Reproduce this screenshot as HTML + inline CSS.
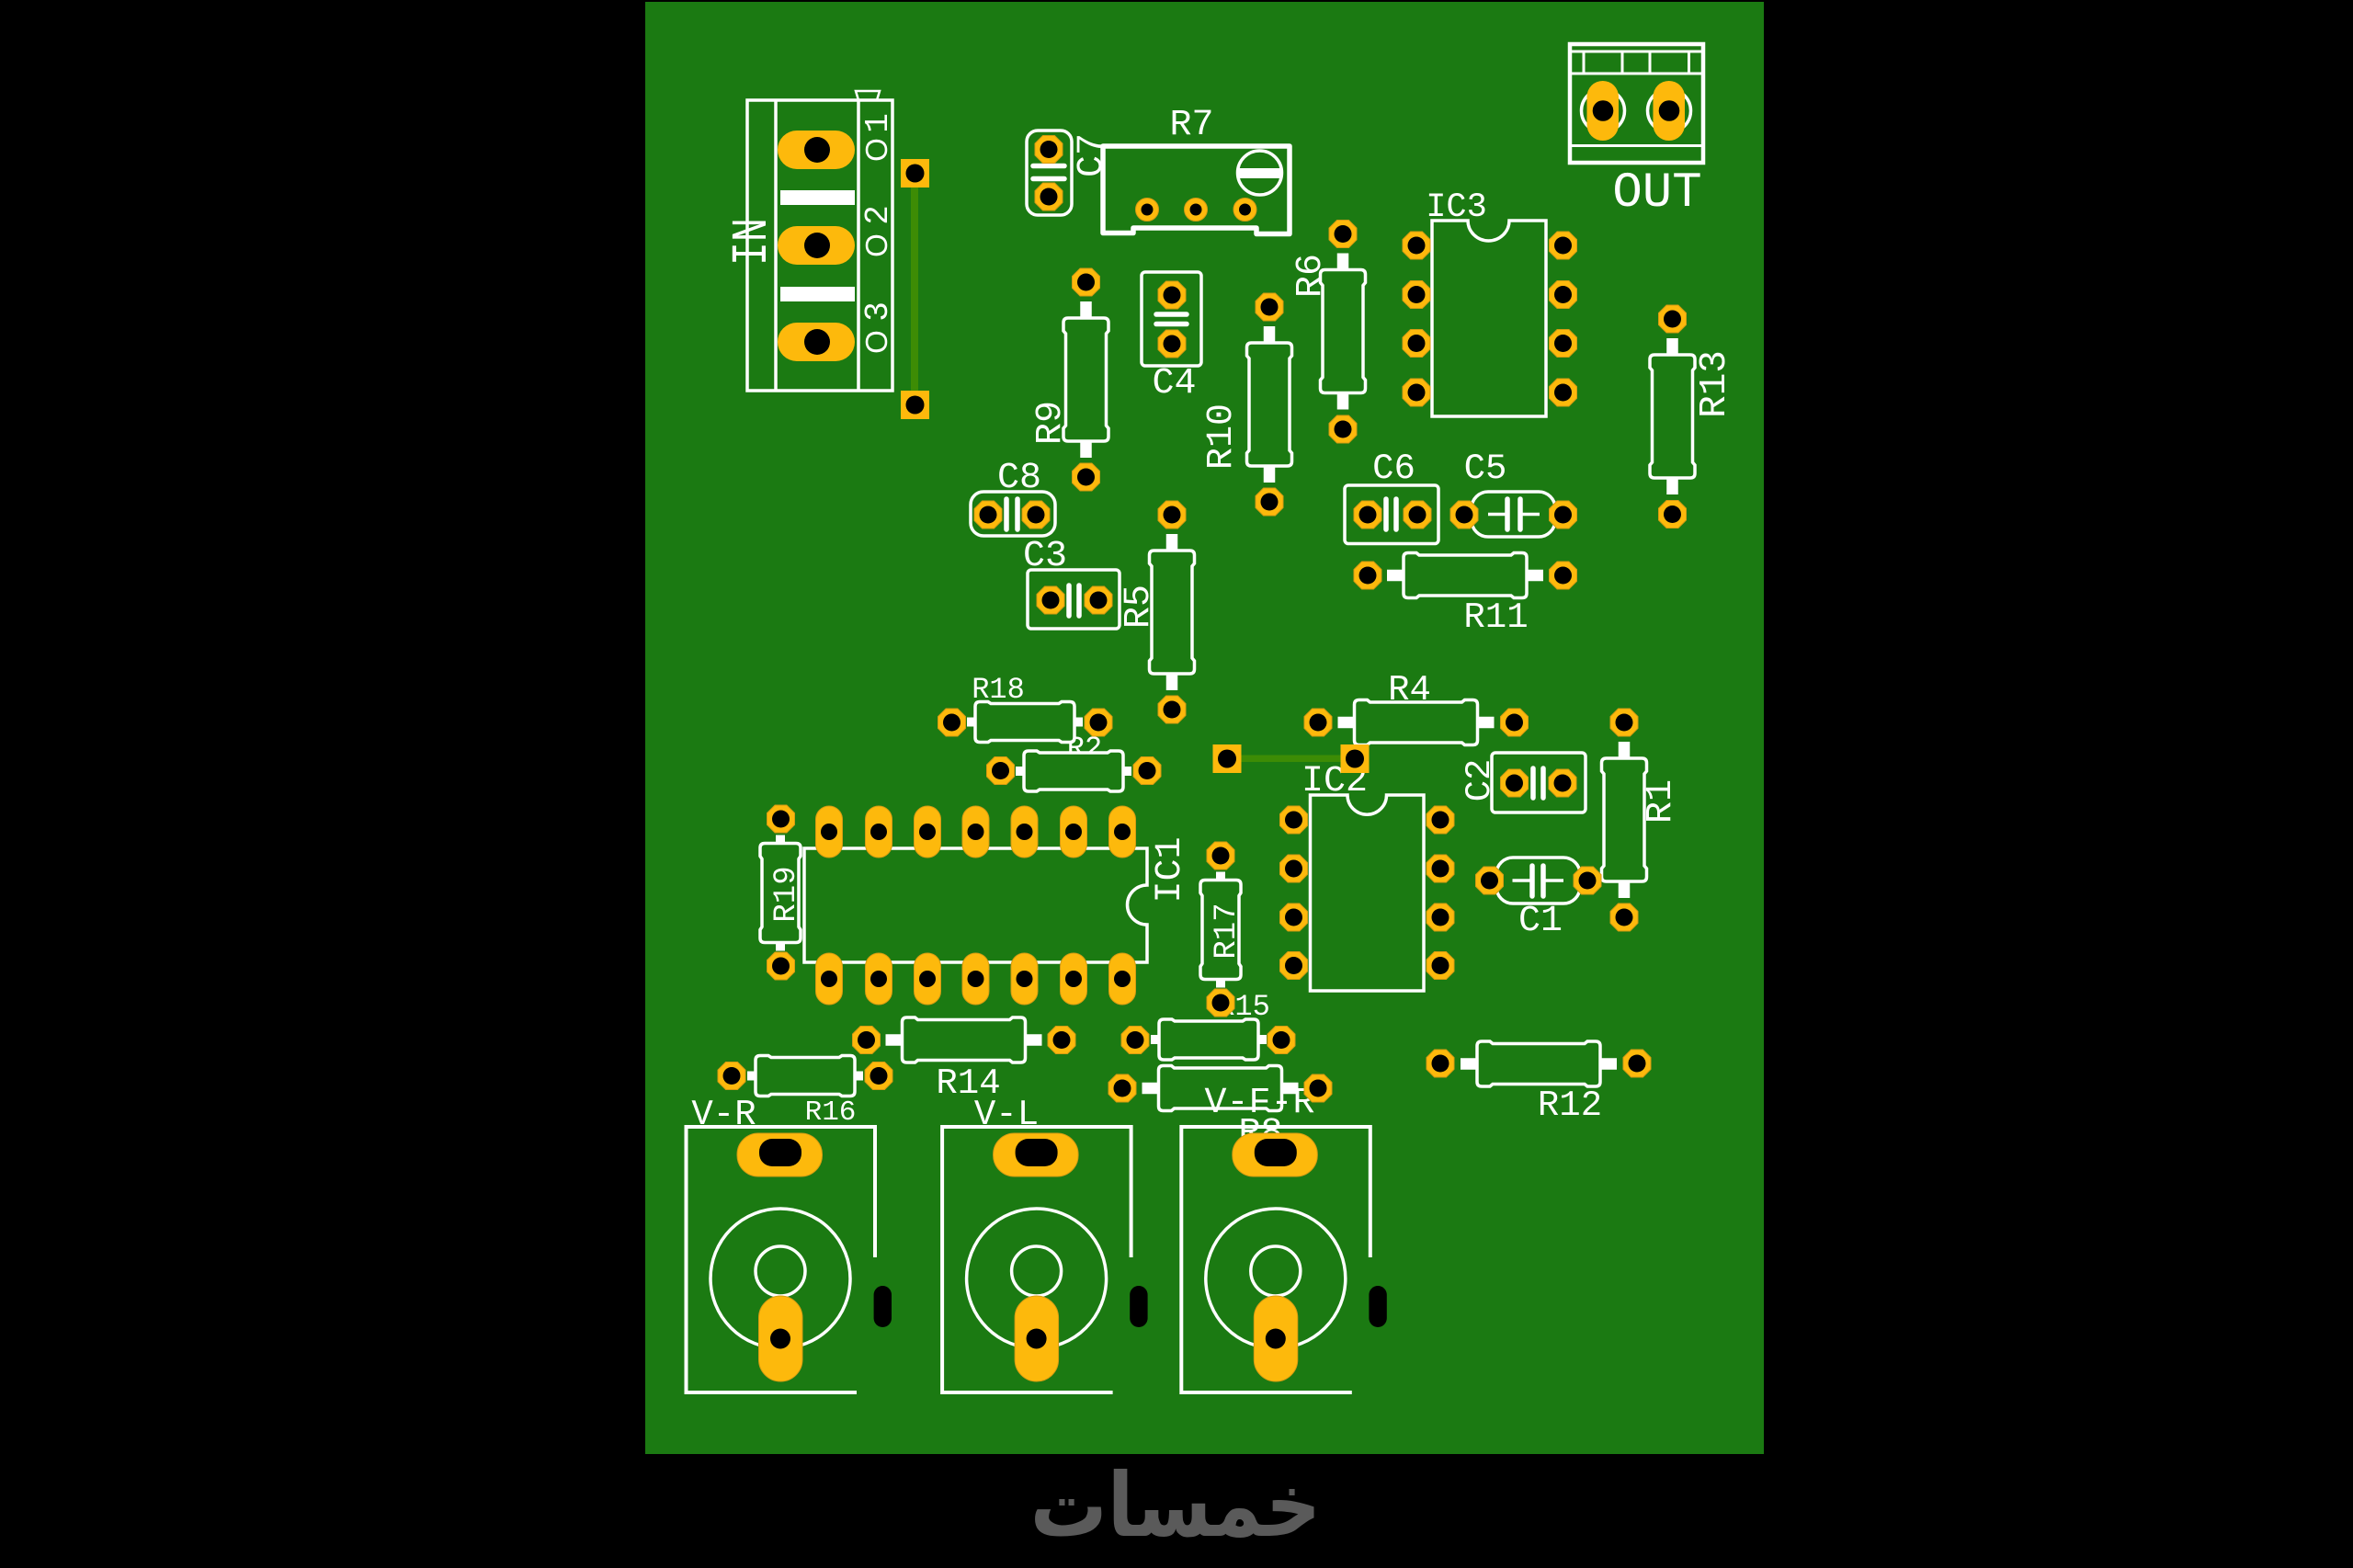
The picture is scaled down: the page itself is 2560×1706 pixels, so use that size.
<!DOCTYPE html>
<html><head><meta charset="utf-8"><style>
html,body{margin:0;padding:0;background:#000}
svg{display:block}
text{fill:#fff;font-family:"Liberation Mono","DejaVu Sans Mono",monospace;text-anchor:middle}
.s{font-family:"Liberation Sans",sans-serif}
.o{fill:none;stroke:#fff;stroke-width:3.5}
.b{fill:none;stroke:#fff;stroke-width:5.5;stroke-linecap:round}
.w{fill:none;stroke:#fff;stroke-width:4}
</style></head><body>
<svg width="2560" height="1706" viewBox="0 0 2560 1706" xmlns="http://www.w3.org/2000/svg">
<defs>
<g id="p"><polygon points="-6.4,-15 6.4,-15 15,-6.4 15,6.4 6.4,15 -6.4,15 -15,6.4 -15,-6.4" fill="#fdb90c" stroke="#d69b12" stroke-width="1" stroke-linejoin="round"/><circle r="9.5" fill="#000"/></g>
<g id="q"><circle r="12.5" fill="#fdb90c" stroke="#d69b12" stroke-width="1"/><circle r="6.5" fill="#000"/></g>
<g id="sq"><rect x="-15.5" y="-15.5" width="31" height="31" fill="#fdb90c"/><circle r="10" fill="#000"/></g>
<g id="dp"><rect x="-14.5" y="-28" width="29" height="56" rx="14.5" fill="#fdb90c" stroke="#d69b12" stroke-width="1"/><circle r="9" fill="#000"/></g>
<g id="rl"><rect x="-85" y="-6.25" width="170" height="12.5" fill="#fff"/><path class="o" style="fill:#1b7a12" d="M-62,-24.5 h9 l3,2.5 H50 l3,-2.5 h9 q5,0 5,5 V19.5 q0,5 -5,5 h-9 l-3,-2.5 H-50 l-3,2.5 h-9 q-5,0 -5,-5 V-19.5 q0,-5 5,-5z"/></g>
<g id="rs"><rect x="-63" y="-5" width="126" height="10" fill="#fff"/><path class="o" style="fill:#1b7a12" d="M-49,-22 h9 l3,2 H37 l3,-2 h9 q5,0 5,5 V17 q0,5 -5,5 h-9 l-3,-2 H-37 l-3,2 h-9 q-5,0 -5,-5 V-17 q0,-5 5,-5z"/></g>
<g id="pot">
<path class="w" d="M932,1515 H746.5 V1226 H952 V1368"/>
<circle cx="849" cy="1391" r="76" class="o"/>
<circle cx="849" cy="1383" r="27" class="o"/>
<rect x="802" y="1233" width="92.5" height="47" rx="23" fill="#fdb90c" stroke="#d69b12" stroke-width="1"/>
<rect x="826" y="1239" width="46" height="30" rx="14" fill="#000"/>
<rect x="825.5" y="1410" width="47.5" height="93" rx="23.7" fill="#fdb90c" stroke="#d69b12" stroke-width="1"/>
<circle cx="849" cy="1456.5" r="11" fill="#000"/>
<rect x="950.6" y="1399" width="19.4" height="45" rx="9.7" fill="#000"/>
</g>
</defs>
<rect width="2560" height="1706" fill="#000"/>
<rect x="702" y="2" width="1217" height="1580" fill="#1b7a12"/>

<!-- traces -->
<rect x="991" y="200" width="8" height="230" fill="#3d8c05"/>
<rect x="1345" y="821.5" width="120" height="7.5" fill="#3d8c05"/>

<!-- label hidden behind body -->
<text x="1180" y="823" font-size="32">R2</text>

<!-- IN terminal -->
<rect x="813" y="109" width="158" height="316" class="o"/>
<path class="o" d="M844,109 V425 M934,109 V425"/>
<path d="M931,99 H957 L954,109 H934 Z" fill="none" stroke="#fff" stroke-width="2.5"/>
<rect x="849" y="207" width="81" height="16" fill="#fff"/>
<rect x="849" y="312" width="81" height="16" fill="#fff"/>
<text transform="translate(833,263) rotate(-90)" font-size="55" textLength="52" lengthAdjust="spacingAndGlyphs">IN</text>
<text class="s" transform="translate(965,163) rotate(-90)" font-size="33">O</text>
<text transform="translate(965,134) rotate(-90)" font-size="36">1</text>
<text class="s" transform="translate(965,267) rotate(-90)" font-size="33">O</text>
<text transform="translate(965,234) rotate(-90)" font-size="36">2</text>
<text class="s" transform="translate(965,372) rotate(-90)" font-size="33">O</text>
<text transform="translate(965,339) rotate(-90)" font-size="36">3</text>

<!-- R7 trimmer -->
<path d="M1200,159 H1403 V254.5 H1367 V248 H1233 V253.5 H1200 Z" fill="none" stroke="#fff" stroke-width="5.5" stroke-linejoin="round"/>
<circle cx="1370.5" cy="188" r="24" class="o"/>
<rect x="1346" y="183" width="49" height="11" fill="#fff"/>
<text x="1296.5" y="146" font-size="40">R7</text>

<!-- OUT terminal -->
<rect x="1708" y="48" width="145" height="129" fill="none" stroke="#fff" stroke-width="4.5"/>
<path d="M1708,56 H1853 M1708,80 H1853 M1708,158.5 H1853 M1723,56 V80 M1765,56 V80 M1795,56 V80 M1837.5,56 V80" fill="none" stroke="#fff" stroke-width="3"/>
<circle cx="1744" cy="120.5" r="23.5" class="o"/>
<circle cx="1816" cy="120.5" r="23.5" class="o"/>
<text x="1803" y="224" font-size="54">OUT</text>

<!-- Resistors -->
<use href="#rl" transform="translate(1181.5,413) rotate(90)"/>
<use href="#rl" transform="translate(1381,440) rotate(90)"/>
<use href="#rl" transform="translate(1275,666) rotate(90)"/>
<use href="#rl" transform="translate(1461,360.5) rotate(90)"/>
<use href="#rl" transform="translate(1819.5,453) rotate(90)"/>
<use href="#rl" transform="translate(1767,892) rotate(90)"/>
<use href="#rl" transform="translate(1594,626)"/>
<use href="#rl" transform="translate(1540.5,786)"/>
<use href="#rl" transform="translate(1048.5,1131.5)"/>
<use href="#rl" transform="translate(1327.5,1184)"/>
<use href="#rl" transform="translate(1674,1157.5)"/>
<use href="#rs" transform="translate(1115,785.5)"/>
<use href="#rs" transform="translate(1168,839)"/>
<use href="#rs" transform="translate(1315,1131)"/>
<use href="#rs" transform="translate(876,1170.5)"/>
<use href="#rs" transform="translate(1328,1011.5) rotate(90)"/>
<use href="#rs" transform="translate(849,971.5) rotate(90)"/>

<!-- ICs -->
<path class="o" d="M1558,240 H1597 A22.5,22 0 0 0 1642,240 H1682 V453 H1558 Z"/>
<path class="o" d="M1425.5,865 H1466 A21,21 0 0 0 1508.5,865 H1549 V1078 H1425.5 Z"/>
<path class="o" d="M875,923 H1248 V963 A21.5,21.5 0 0 0 1248,1006 V1047 H875 Z"/>

<!-- Capacitors -->
<rect x="1117" y="142" width="49" height="92" rx="12" class="o"/>
<path class="b" d="M1124,180.5 H1158 M1124,194.5 H1158"/>
<rect x="1242" y="296" width="65" height="102" rx="4" class="o"/>
<path class="b" d="M1258,342 H1291 M1258,352.5 H1291"/>
<rect x="1463" y="528" width="102" height="63.5" rx="4" class="o"/>
<path class="b" d="M1508,543 V576 M1519,543 V576"/>
<rect x="1601" y="535" width="91" height="49" rx="18" class="o"/>
<path class="b" d="M1640,543 V576 M1654,543 V576"/>
<path class="o" d="M1619,559.5 H1640 M1654,559.5 H1675"/>
<rect x="1056" y="535" width="92" height="48" rx="14" class="o"/>
<path class="b" d="M1095,543 V576 M1107,543 V576"/>
<rect x="1118" y="620" width="100" height="64" rx="4" class="o"/>
<path class="b" d="M1163,637 V670 M1174,637 V670"/>
<rect x="1623" y="819" width="102" height="65" rx="4" class="o"/>
<path class="b" d="M1668,836 V868 M1679,836 V868"/>
<rect x="1628" y="933" width="91" height="50" rx="18" class="o"/>
<path class="b" d="M1667,942 V975 M1679,942 V975"/>
<path class="o" d="M1645.5,958 H1667 M1679,958 H1701"/>

<!-- Labels -->
<text transform="translate(1198,169) rotate(-90)" font-size="40">C7</text>
<text x="1277.5" y="427" font-size="40">C4</text>
<text transform="translate(1153,460) rotate(-90)" font-size="40">R9</text>
<text transform="translate(1339,475) rotate(-90)" font-size="40">R10</text>
<text transform="translate(1436,300) rotate(-90)" font-size="40">R6</text>
<text x="1109" y="530" font-size="40">C8</text>
<text x="1137" y="615" font-size="40">C3</text>
<text transform="translate(1249,660) rotate(-90)" font-size="40">R5</text>
<text x="1584.5" y="235" font-size="37">IC3</text>
<text x="1516.5" y="520" font-size="39">C6</text>
<text x="1616" y="520" font-size="39">C5</text>
<text x="1627.5" y="682" font-size="39">R11</text>
<text transform="translate(1876,418) rotate(-90)" font-size="41">R13</text>
<text x="1086" y="759" font-size="32">R18</text>
<text x="1533.5" y="761" font-size="39">R4</text>
<text transform="translate(1817,872) rotate(-90)" font-size="40">R1</text>
<text transform="translate(1620,849) rotate(-90)" font-size="39">C2</text>
<text x="1676" y="1012" font-size="40">C1</text>
<text x="1452" y="860" font-size="40">IC2</text>
<text transform="translate(1283,946.5) rotate(-90)" font-size="40">IC1</text>
<text transform="translate(1343,1013) rotate(-90)" font-size="34">R17</text>
<text transform="translate(864,973) rotate(-90)" font-size="34">R19</text>
<text x="1353" y="1104" font-size="32">R15</text>
<text x="1053.5" y="1189" font-size="39">R14</text>
<text x="903.5" y="1218" font-size="31">R16</text>
<text x="787.5" y="1223" font-size="39">V-R</text>
<text x="1095" y="1223" font-size="39">V-L</text>
<text x="1370.5" y="1210" font-size="40" textLength="120" lengthAdjust="spacingAndGlyphs">V-F-R</text>
<text x="1371.5" y="1243" font-size="40">R8</text>
<text x="1708" y="1213" font-size="39">R12</text>

<!-- Pots -->
<use href="#pot"/>
<use href="#pot" transform="translate(278.6,0)"/>
<use href="#pot" transform="translate(538.8,0)"/>

<!-- IN pads -->
<rect x="846" y="142" width="84" height="42" rx="21" fill="#fdb90c"/><circle cx="889" cy="163" r="14" fill="#000"/>
<rect x="846" y="246" width="84" height="42" rx="21" fill="#fdb90c"/><circle cx="889" cy="267" r="14" fill="#000"/>
<rect x="846" y="351" width="84" height="42" rx="21" fill="#fdb90c"/><circle cx="889" cy="372" r="14" fill="#000"/>

<!-- OUT pads -->
<rect x="1726.5" y="88" width="34.5" height="65" rx="17.2" fill="#fdb90c"/><circle cx="1744" cy="120.5" r="11.3" fill="#000"/>
<rect x="1798.5" y="88" width="34.5" height="65" rx="17.2" fill="#fdb90c"/><circle cx="1816" cy="120.5" r="11.3" fill="#000"/>

<!-- square pads -->
<use href="#sq" x="995.5" y="188.5"/><use href="#sq" x="995.5" y="440.5"/>
<use href="#sq" x="1335" y="825.5"/><use href="#sq" x="1474" y="825.5"/>

<!-- R7 pads -->
<use href="#q" x="1248" y="228"/><use href="#q" x="1301" y="228"/><use href="#q" x="1354.5" y="228"/>

<!-- round pads -->
<use href="#p" x="1141" y="162.5"/><use href="#p" x="1141" y="214"/>
<use href="#p" x="1275" y="321"/><use href="#p" x="1275" y="374"/>
<use href="#p" x="1181.5" y="307"/><use href="#p" x="1181.5" y="519"/>
<use href="#p" x="1381" y="334"/><use href="#p" x="1381" y="546"/>
<use href="#p" x="1461" y="254.5"/><use href="#p" x="1461" y="467"/>
<use href="#p" x="1275" y="560"/><use href="#p" x="1275" y="772"/>
<use href="#p" x="1819.5" y="347"/><use href="#p" x="1819.5" y="559.5"/>
<use href="#p" x="1767" y="786"/><use href="#p" x="1767" y="998"/>
<use href="#p" x="1488" y="626"/><use href="#p" x="1700.5" y="626"/>
<use href="#p" x="1434" y="786"/><use href="#p" x="1647.5" y="786"/>
<use href="#p" x="942.5" y="1131.5"/><use href="#p" x="1155" y="1131.5"/>
<use href="#p" x="1221" y="1184"/><use href="#p" x="1434" y="1184"/>
<use href="#p" x="1567" y="1157"/><use href="#p" x="1781" y="1157"/>
<use href="#p" x="1035.5" y="786"/><use href="#p" x="1195" y="786"/>
<use href="#p" x="1088.5" y="838.5"/><use href="#p" x="1248" y="838.5"/>
<use href="#p" x="1235" y="1131.5"/><use href="#p" x="1394" y="1131.5"/>
<use href="#p" x="796" y="1170.5"/><use href="#p" x="956" y="1170.5"/>
<use href="#p" x="1328" y="931"/><use href="#p" x="1328" y="1091"/>
<use href="#p" x="849.5" y="891"/><use href="#p" x="849.5" y="1051"/>
<use href="#p" x="1488" y="560"/><use href="#p" x="1542" y="560"/>
<use href="#p" x="1593" y="560"/><use href="#p" x="1700.5" y="560"/>
<use href="#p" x="1075" y="560"/><use href="#p" x="1127" y="560"/>
<use href="#p" x="1143" y="653"/><use href="#p" x="1195" y="653"/>
<use href="#p" x="1647.5" y="852"/><use href="#p" x="1700" y="852"/>
<use href="#p" x="1620.5" y="958"/><use href="#p" x="1727" y="958"/>
<!-- IC3 -->
<use href="#p" x="1541" y="267"/><use href="#p" x="1541" y="320.5"/><use href="#p" x="1541" y="373.5"/><use href="#p" x="1541" y="427"/>
<use href="#p" x="1700.5" y="267"/><use href="#p" x="1700.5" y="320.5"/><use href="#p" x="1700.5" y="373.5"/><use href="#p" x="1700.5" y="427"/>
<!-- IC2 -->
<use href="#p" x="1407.5" y="892"/><use href="#p" x="1407.5" y="945"/><use href="#p" x="1407.5" y="998"/><use href="#p" x="1407.5" y="1050.5"/>
<use href="#p" x="1567" y="892"/><use href="#p" x="1567" y="945"/><use href="#p" x="1567" y="998"/><use href="#p" x="1567" y="1050.5"/>
<!-- IC1 -->
<use href="#dp" x="902" y="905"/><use href="#dp" x="956" y="905"/><use href="#dp" x="1009" y="905"/><use href="#dp" x="1061.5" y="905"/><use href="#dp" x="1114.5" y="905"/><use href="#dp" x="1168" y="905"/><use href="#dp" x="1221" y="905"/>
<use href="#dp" x="902" y="1065"/><use href="#dp" x="956" y="1065"/><use href="#dp" x="1009" y="1065"/><use href="#dp" x="1061.5" y="1065"/><use href="#dp" x="1114.5" y="1065"/><use href="#dp" x="1168" y="1065"/><use href="#dp" x="1221" y="1065"/>

<!-- watermark -->
<text transform="translate(1279,1671) scale(0.87,1)" font-size="96" font-weight="bold" style="font-family:'DejaVu Sans',sans-serif;fill:#5a5a5a" direction="rtl">خمسات</text>
</svg>
</body></html>
